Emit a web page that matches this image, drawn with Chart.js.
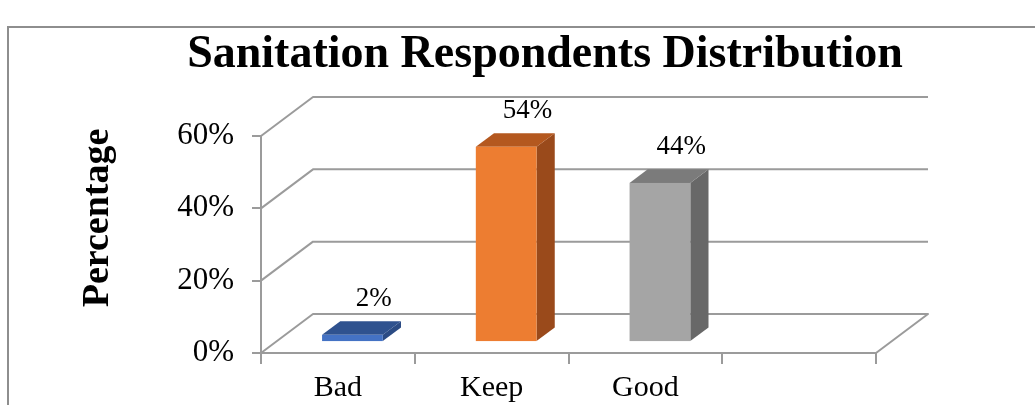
<!DOCTYPE html>
<html>
<head>
<meta charset="utf-8">
<script src="https://cdn.jsdelivr.net/npm/chart.js@4.4.1/dist/chart.umd.min.js"></script>
<style>
  html, body { margin: 0; padding: 0; background: #fff; }
  #wrap { width: 1035px; height: 405px; }
</style>
</head>
<body>
<div id="wrap"><canvas id="c" width="1035" height="405"></canvas></div>
<script>
// Survey answers on sanitation, share of respondents per category
const categories = ['Bad', 'Keep', 'Good', ''];
const shares = [2, 54, 44, null];
const yTicks = [0, 20, 40, 60];

// Column shading: front face, top face, right side face
const frontColors = ['#4472C4', '#ED7D31', '#A5A5A5'];
const topColors = ['#2F528F', '#B4581F', '#7B7B7B'];
const sideColors = ['#2B4B84', '#9A4A1B', '#686868'];

const SERIF = '"Liberation Serif", "Times New Roman", serif';
const GRID = '#9b9b9b';

// Oblique projection of the plot box: back wall offset and column depth
const depth = { dx: 52, dy: -39, barFront: 0.28, barDepth: 0.35 };

function poly(ctx, pts, color) {
  ctx.beginPath();
  ctx.moveTo(pts[0][0], pts[0][1]);
  for (let i = 1; i < pts.length; i++) ctx.lineTo(pts[i][0], pts[i][1]);
  ctx.closePath();
  ctx.fillStyle = color;
  ctx.fill();
}

const box3d = {
  id: 'box3d',
  beforeDraw(chart) {
    const ctx = chart.ctx;
    ctx.save();
    ctx.fillStyle = '#fff';
    ctx.fillRect(0, 0, chart.width, chart.height);
    // outer chart frame
    ctx.strokeStyle = '#8e8e8e';
    ctx.lineWidth = 2;
    ctx.beginPath();
    ctx.moveTo(8, chart.height);
    ctx.lineTo(8, 27);
    ctx.lineTo(chart.width, 27);
    ctx.stroke();
    ctx.restore();
  },
  beforeDatasetsDraw(chart) {
    const { ctx, chartArea: a, scales: { y } } = chart;
    ctx.save();
    // side wall and back wall gridlines, floor outline
    ctx.strokeStyle = GRID;
    ctx.lineWidth = 2;
    ctx.lineJoin = 'round';
    yTicks.forEach(v => {
      const py = y.getPixelForValue(v);
      ctx.beginPath();
      ctx.moveTo(a.left, py);
      ctx.lineTo(a.left + depth.dx, py + depth.dy);
      ctx.lineTo(a.right + depth.dx, py + depth.dy);
      if (v === 0) ctx.lineTo(a.right, py);
      ctx.stroke();
    });

    // 3D columns built on the bar elements laid out by the scales
    const meta = chart.getDatasetMeta(0);
    const ds = chart.data.datasets[0];
    const fx = depth.barFront * depth.dx, fy = depth.barFront * depth.dy;
    const tx = depth.barDepth * depth.dx, ty = depth.barDepth * depth.dy;
    meta.data.forEach((bar, i) => {
      if (ds.data[i] == null) return;
      const p = bar.getProps(['x', 'y', 'base', 'width'], true);
      const x0 = p.x - p.width / 2 + fx, x1 = p.x + p.width / 2 + fx;
      const yt = p.y + fy, yb = p.base + fy;
      poly(ctx, [[x1, yt], [x1 + tx, yt + ty], [x1 + tx, yb + ty], [x1, yb]], ds.sideColor[i]);
      poly(ctx, [[x0, yt], [x1, yt], [x1 + tx, yt + ty], [x0 + tx, yt + ty]], ds.topColor[i]);
      ctx.fillStyle = ds.backgroundColor[i];
      ctx.fillRect(x0, yt, x1 - x0, yb - yt);

      // value label above the column
      ctx.fillStyle = '#000';
      ctx.font = '27px ' + SERIF;
      ctx.textAlign = 'center';
      ctx.textBaseline = 'alphabetic';
      ctx.fillText(ds.data[i] + '%', p.x + fx + tx + 3, yt + ty - 15);
    });
    ctx.restore();
    return false;
  },
  afterDraw(chart) {
    const { ctx, chartArea: a } = chart;
    ctx.save();
    ctx.translate(a.left - 163, (a.top + depth.dy + a.bottom) / 2 - 7);
    ctx.rotate(-Math.PI / 2);
    ctx.fillStyle = '#000';
    ctx.font = 'bold 38px ' + SERIF;
    ctx.textAlign = 'center';
    ctx.textBaseline = 'middle';
    ctx.fillText('Percentage', 0, 0);
    ctx.restore();
  }
};

new Chart(document.getElementById('c'), {
  type: 'bar',
  data: {
    labels: categories,
    datasets: [{
      data: shares,
      backgroundColor: frontColors,
      topColor: topColors,
      sideColor: sideColors,
      barPercentage: 1,
      categoryPercentage: 0.395
    }]
  },
  options: {
    responsive: false,
    devicePixelRatio: 1,
    animation: false,
    layout: { padding: { left: 55, right: 0, top: 0, bottom: 0 } },
    plugins: {
      legend: { display: false },
      tooltip: { enabled: false },
      title: {
        display: true,
        text: 'Sanitation Respondents Distribution',
        color: '#000',
        font: { family: SERIF, size: 46, weight: 'bold', lineHeight: 1.2 },
        padding: { top: 28, bottom: 52.8 }
      }
    },
    scales: {
      x: {
        grid: { drawOnChartArea: false, drawTicks: true, tickLength: 11, color: GRID, lineWidth: 2, offset: true },
        border: { color: GRID, width: 2 },
        ticks: { color: '#000', font: { family: SERIF, size: 30 }, padding: 6 },
        afterFit(s) { s.height = 52; }
      },
      y: {
        min: 0,
        max: 60,
        ticks: {
          stepSize: 20,
          callback: v => v + '%',
          color: '#000',
          font: { family: SERIF, size: 31 },
          padding: 18
        },
        grid: { drawOnChartArea: false, tickLength: 9, color: GRID, lineWidth: 2 },
        border: { color: GRID, width: 2 },
        afterFit(s) { s.width = 206; }
      },
      spacer: {
        axis: 'y',
        position: 'right',
        display: true,
        grid: { display: false },
        border: { display: false },
        ticks: { display: false },
        afterFit(s) { s.width = 159; }
      }
    }
  },
  plugins: [box3d]
});
</script>
</body>
</html>
